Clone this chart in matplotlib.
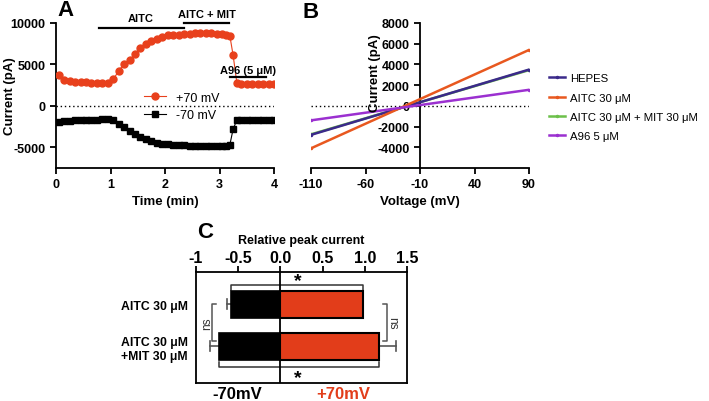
import matplotlib
matplotlib.use("Agg")
import matplotlib.pyplot as plt
import numpy as np

plt.rcParams['font.family'] = ['Liberation Sans', 'DejaVu Sans']
plt.rcParams['axes.unicode_minus'] = False

# ---------------- Panel A data ----------------
time_min = [0.05, 0.15, 0.25, 0.35, 0.45, 0.55, 0.65, 0.75, 0.85, 0.95,
            1.05, 1.15, 1.25, 1.35, 1.45, 1.55, 1.65, 1.75, 1.85, 1.95,
            2.05, 2.15, 2.25, 2.35, 2.45, 2.55, 2.65, 2.75, 2.85, 2.95,
            3.05, 3.12, 3.19, 3.25, 3.32, 3.40, 3.50, 3.60, 3.70, 3.80, 3.90, 4.00]
current_p70 = [3700, 3100, 2950, 2900, 2850, 2850, 2800, 2800, 2750, 2750,
               3200, 4200, 5100, 5500, 6300, 7000, 7500, 7800, 8100, 8300,
               8500, 8600, 8600, 8650, 8700, 8750, 8750, 8800, 8750, 8700,
               8650, 8550, 8450, 6100, 2700, 2650, 2600, 2600, 2600, 2600, 2600, 2600]
current_m70 = [-1900, -1850, -1800, -1750, -1700, -1700, -1650, -1650, -1600, -1600,
               -1750, -2150, -2600, -3000, -3400, -3750, -4000, -4250, -4450, -4600,
               -4650, -4700, -4750, -4750, -4800, -4850, -4900, -4900, -4900, -4850,
               -4850, -4800, -4700, -2800, -1700, -1700, -1650, -1650, -1650, -1650, -1650, -1650]

# ---------------- Panel B data ----------------
voltage_mv = [-110, 90]
iv_hepes = [-2800, 3500]
iv_aitc = [-4100, 5400]
iv_aitc_mit = [-2750, 3450]
iv_a96 = [-1400, 1550]
iv_labels = ["HEPES", "AITC 30 μM", "AITC 30 μM + MIT 30 μM", "A96 5 μM"]
iv_colors = ["#3b2a8a", "#e8581f", "#6cc04a", "#9b30d0"]

# ---------------- Panel C data ----------------
c_categories = ["AITC 30 μM", "AITC 30 μM\n+MIT 30 μM"]
rel_m70 = [-0.59, -0.73]
rel_m70_err = [0.04, 0.10]
rel_p70 = [0.98, 1.17]
rel_p70_err = [0.0, 0.20]

W, H = 709, 402
fig = plt.figure(figsize=(W / 100, H / 100), dpi=100)

def fx(px):
    return px / W

def fy(py):
    return 1 - py / H

RED = "#e8401c"
bold = dict(fontweight='bold')

# ================= Panel A =================
axA = fig.add_axes([fx(56), fy(169), fx(218), (169 - 24) / H])
axA.plot(time_min, current_p70, color=RED, marker='o', ms=5, lw=0.8,
         mec=RED, label='+70 mV', zorder=3)
axA.plot(time_min, current_m70, color='black', marker='s', ms=5, lw=0.8,
         label='-70 mV', zorder=3)
axA.axhline(0, color='black', ls=(0, (1, 2)), lw=1.0, xmin=0, xmax=1)
axA.set_xlim(0, 4)
axA.set_ylim(-7500, 10000)
axA.set_xticks([0, 1, 2, 3, 4])
axA.set_yticks([-5000, 0, 5000, 10000])
for s in ['top', 'right']:
    axA.spines[s].set_visible(False)
for s in ['left', 'bottom']:
    axA.spines[s].set_linewidth(1.3)
axA.tick_params(width=1.3, length=4, labelsize=9)
for lab in axA.get_xticklabels() + axA.get_yticklabels():
    lab.set_fontweight('bold')
axA.set_xlabel('Time (min)', fontsize=9.5, fontweight='bold', labelpad=3)
fig.text(fx(10), fy(96), 'Current (pA)', rotation=90, fontsize=9.5,
         fontweight='bold', ha='center', va='center')
# treatment bars
axA.plot([0.78, 2.35], [9400, 9400], color='black', lw=1.6, clip_on=False)
axA.text(1.55, 10000, 'AITC', ha='center', va='bottom', fontsize=8, **bold)
axA.plot([2.35, 3.18], [10050, 10050], color='black', lw=1.6, clip_on=False)
axA.text(2.77, 10500, 'AITC + MIT', ha='center', va='bottom', fontsize=8, **bold)
axA.plot([3.2, 3.85], [3500, 3500], color='black', lw=1.6, clip_on=False, zorder=4)
axA.text(3.52, 3700, 'A96 (5 μM)', ha='center', va='bottom', fontsize=8, **bold)
axA.legend(loc='upper left', bbox_to_anchor=(0.38, 0.56), frameon=False, fontsize=9,
           handlelength=1.8, borderaxespad=0, labelspacing=0.45)
fig.text(fx(57), fy(10), 'A', fontsize=16, fontweight='bold', va='center', ha='left')

# ================= Panel B =================
axB = fig.add_axes([fx(311), fy(169), fx(218), (169 - 24) / H])
order = [2, 0, 1, 3]
series = [iv_hepes, iv_aitc, iv_aitc_mit, iv_a96]
lines = {}
for i in order:
    ln, = axB.plot(voltage_mv, series[i], color=iv_colors[i], lw=1.8,
                   marker='o', ms=1.5, label=iv_labels[i], zorder=3 if i != 2 else 2)
    lines[i] = ln
axB.plot([-110, 90], [0, 0], color='black', ls=(0, (1, 2)), lw=1.0, zorder=1)
axB.set_xlim(-110, 90)
axB.set_ylim(-6000, 8000)
axB.set_xticks([-110, -60, -10, 40, 90])
axB.set_yticks([-4000, -2000, 0, 2000, 4000, 6000, 8000])
axB.spines['left'].set_position(('data', -10))
for s in ['top', 'right']:
    axB.spines[s].set_visible(False)
for s in ['left', 'bottom']:
    axB.spines[s].set_linewidth(1.3)
axB.tick_params(width=1.3, length=4, labelsize=9)
for lab in axB.get_xticklabels() + axB.get_yticklabels():
    lab.set_fontweight('bold')
axB.set_xlabel('Voltage (mV)', fontsize=9.5, fontweight='bold', labelpad=3)
fig.text(fx(375), fy(73), 'Current (pA)', rotation=90, fontsize=9.5,
         fontweight='bold', ha='center', va='center')
axB.legend([lines[i] for i in [0, 1, 2, 3]], [iv_labels[i] for i in [0, 1, 2, 3]],
           loc='center left', bbox_to_anchor=(1.07, 0.42), frameon=False, fontsize=8.2,
           handlelength=1.4, handletextpad=0.5, labelspacing=0.8, borderaxespad=0)
fig.text(fx(303), fy(12), 'B', fontsize=16, fontweight='bold', va='center', ha='left')

# ================= Panel C =================
axC = fig.add_axes([fx(196), fy(384), fx(211), (384 - 273) / H])
ypos = np.arange(len(c_categories))
bh = 0.64
ERRC = '#555555'
axC.barh(ypos, rel_m70, height=bh, color='black', edgecolor='black', lw=1.2, zorder=3)
axC.barh(ypos, rel_p70, height=bh, color='#e23d1a', edgecolor='black', lw=1.5, zorder=3)
for y, v, e in zip(ypos, rel_m70, rel_m70_err):
    if e > 0:
        axC.plot([v, v - e], [y, y], color=ERRC, lw=1.2, zorder=2)
        axC.plot([v - e, v - e], [y - 0.12, y + 0.12], color=ERRC, lw=1.2, zorder=2)
for y, v, e in zip(ypos, rel_p70, rel_p70_err):
    if e > 0:
        axC.plot([v, v + e], [y, y], color=ERRC, lw=1.2, zorder=2)
        axC.plot([v + e, v + e], [y - 0.12, y + 0.12], color=ERRC, lw=1.2, zorder=2)
axC.axvline(0, color='black', lw=1.3, zorder=4)
axC.set_xlim(-1, 1.5)
axC.set_ylim(1.87, -0.77)
axC.xaxis.tick_top()
axC.set_xticks([-1, -0.5, 0, 0.5, 1.0, 1.5])
axC.set_xticklabels(['-1', '-0.5', '0.0', '0.5', '1.0', '1.5'])
axC.tick_params(axis='x', width=1.3, length=4, labelsize=11.5, pad=1)
for lab in axC.get_xticklabels():
    lab.set_fontweight('bold')
axC.set_yticks(ypos)
axC.set_yticklabels(c_categories, fontsize=8.8, fontweight='bold')
axC.tick_params(axis='y', length=0, pad=6)
for s in axC.spines.values():
    s.set_linewidth(1.3)
axC.set_title('Relative peak current', fontsize=9, fontweight='bold', pad=21)
# significance brackets
BRC = '#333333'
axC.plot([rel_m70[0], rel_m70[0], rel_p70[0], rel_p70[0]], [-0.35, -0.46, -0.46, -0.35],
         color=BRC, lw=1.1, zorder=2)
axC.text(0.21, -0.56, '*', ha='center', va='center', fontsize=14, fontweight='bold')
axC.plot([rel_m70[1], rel_m70[1], rel_p70[1], rel_p70[1]], [1.37, 1.49, 1.49, 1.37],
         color=BRC, lw=1.1, zorder=2)
axC.text(0.21, 1.73, '*', ha='center', va='center', fontsize=14, fontweight='bold')
axC.plot([-0.76, -0.81, -0.81, -0.76], [0.0, 0.0, 0.87, 0.87], color=ERRC, lw=1.1)
axC.text(-0.87, 0.43, 'ns', rotation=90, ha='center', va='center', fontsize=8.5, color='#333333')
axC.plot([1.22, 1.265, 1.265, 1.22], [0.0, 0.0, 0.87, 0.87], color=ERRC, lw=1.1)
axC.text(1.33, 0.43, 'ns', rotation=270, ha='center', va='center', fontsize=8.5, color='#333333')
fig.text(fx(237), fy(395), '-70mV', fontsize=12, fontweight='bold', ha='center', va='center')
fig.text(fx(343), fy(395), '+70mV', fontsize=12, fontweight='bold', ha='center', va='center',
         color='#e23d1a')
fig.text(fx(197), fy(233), 'C', fontsize=16, fontweight='bold', va='center', ha='left')

fig.savefig('out.png', dpi=100)
